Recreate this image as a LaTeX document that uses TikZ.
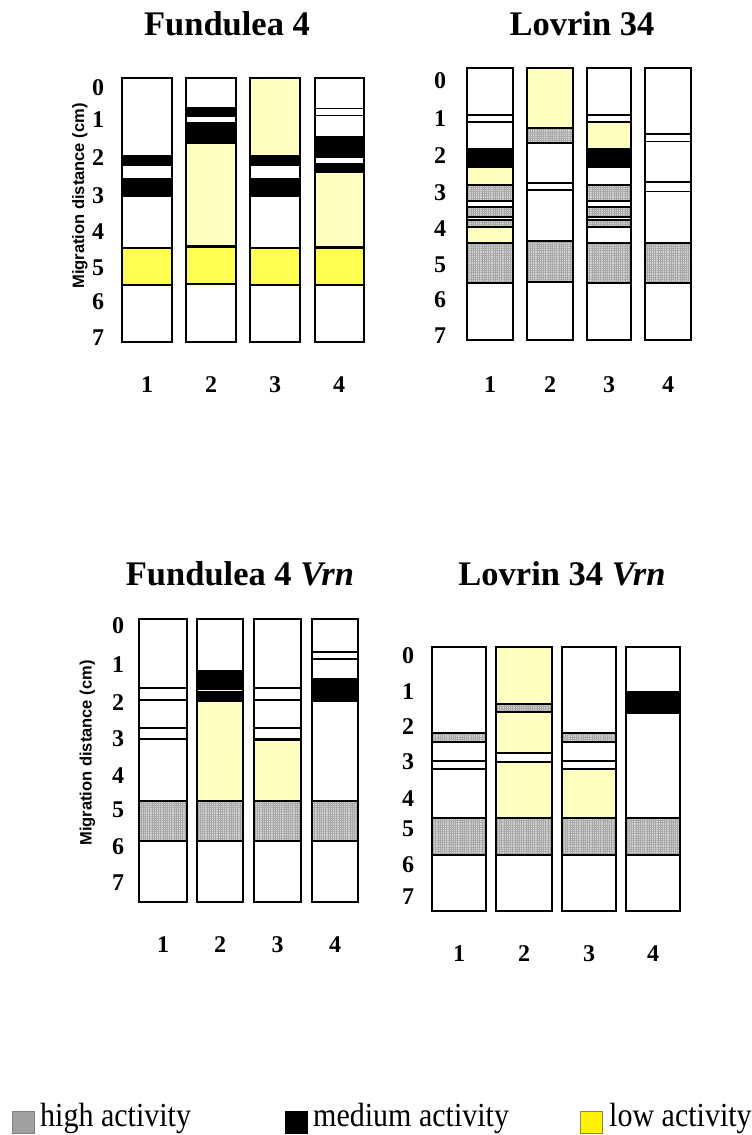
\documentclass[tikz,border=0pt]{standalone}
\usepackage{graphicx}
\usepackage{fontspec}
\setmainfont{Liberation Serif}
\newfontfamily\axisfont{Liberation Sans}
\usetikzlibrary{patterns.meta}
\definecolor{lyel}{HTML}{FFFFC0}
\definecolor{meshgrey}{HTML}{D4D4D4}
\definecolor{meshline}{HTML}{A8A8A8}
\definecolor{myel}{HTML}{FFFF50}
\definecolor{leggrey}{HTML}{A0A0A0}
\definecolor{legedge}{HTML}{808080}
\tikzset{
  bandline/.style={draw=black, line width=1.9pt},
  laneframe/.style={draw=black, line width=2pt},
  bk/.style={bandline, fill=black},
  yl/.style={bandline, fill=lyel},
  wb/.style={bandline, fill=white},
  gm/.style={bandline,
    preaction={fill=meshgrey},
    preaction={pattern={Lines[angle=0,distance=2.2pt,line width=0.5pt]}, pattern color=meshline},
    preaction={pattern={Lines[angle=90,distance=2.2pt,line width=0.5pt]}, pattern color=meshline}},
  ym/.style={bandline, fill=myel},
  title/.style={anchor=base, inner sep=0pt, font=\fontsize{34.5}{40}\selectfont\bfseries},
  tick/.style={inner sep=0pt, font=\fontsize{24}{28}\selectfont\bfseries},
  axlabel/.style={rotate=90, inner sep=0pt, font=\axisfont\fontsize{16.5}{19}\selectfont\bfseries},
  legtext/.style={anchor=base west, inner sep=0pt, font=\fontsize{30}{34}\selectfont},
}
\newcommand\bd[5]{\draw[#1] (#2,#4) rectangle (#3,#5);}
\begin{document}
\begin{tikzpicture}[x=1pt,y=-1pt]
\useasboundingbox (0,0) rectangle (752,1135);

% ---------------- titles
\node[title] (t1) at (227,35) {Fundulea 4};
\node[title] (t2) at (582,35) {Lovrin 34};
\node[title] (t3) at (240,585) {Fundulea 4 \textit{Vrn}};
\node[title] (t4) at (562,585) {Lovrin 34 \textit{Vrn}};

% ---------------- axis labels
\node[axlabel] (a1) at (80,196) {Migration distance (cm)};
\node[axlabel] (a3) at (87.5,753) {Migration distance (cm)};

% ---------------- axis digits
\foreach \y [count=\i from 0] in {88,120,158,196,232,268,302,338}
  \node[tick] (p1y\i) at (98,\y) {\i};
\foreach \y [count=\i from 0] in {81,119,156,193,229,265,300,336}
  \node[tick] (p2y\i) at (440,\y) {\i};
\foreach \y [count=\i from 0] in {626,665,703,739,776,810,847,883}
  \node[tick] (p3y\i) at (118,\y) {\i};
\foreach \y [count=\i from 0] in {656,692,727,762,799,829,865,897}
  \node[tick] (p4y\i) at (408,\y) {\i};

% ---------------- lane numbers
\foreach \x [count=\i] in {147,211,275,339}
  \node[tick] (p1n\i) at (\x,385) {\i};
\foreach \x [count=\i] in {490,550,609,668}
  \node[tick] (p2n\i) at (\x,385) {\i};
\foreach \x [count=\i] in {163,220,277.5,335}
  \node[tick] (p3n\i) at (\x,945) {\i};
\foreach \x [count=\i] in {459,524,589,653}
  \node[tick] (p4n\i) at (\x,954) {\i};

% ---------------- panel 1 : Fundulea 4
\bd{bk}{122}{172}{156}{165}
\bd{bk}{122}{172}{179}{196}
\bd{ym}{122}{172}{248}{285}
\bd{bk}{186}{236}{108}{116}
\bd{bk}{186}{236}{123}{143}
\bd{yl}{186}{236}{143}{246}
\bd{ym}{186}{236}{247}{284}
\bd{yl}{250}{300}{78}{156}
\bd{bk}{250}{300}{156}{165}
\bd{bk}{250}{300}{179}{196}
\bd{ym}{250}{300}{248}{285}
\bd{wb}{315}{364}{108.5}{115.5}
\bd{bk}{315}{364}{137}{157}
\bd{bk}{315}{364}{164}{172}
\bd{yl}{315}{364}{172}{247}
\bd{ym}{315}{364}{248}{285}
\foreach \a/\b in {122/172,186/236,250/300,315/364}
  \draw[laneframe] (\a,78) rectangle (\b,342);

% ---------------- panel 2 : Lovrin 34
\bd{wb}{467}{513}{115}{122}
\bd{bk}{467}{513}{149}{167}
\bd{yl}{467}{513}{167}{185}
\bd{gm}{467}{513}{185}{201}
\bd{wb}{467}{513}{201}{207}
\bd{gm}{467}{513}{207}{217}
\bd{wb}{467}{513}{217}{220}
\bd{gm}{467}{513}{220}{227}
\bd{yl}{467}{513}{227}{243}
\bd{gm}{467}{513}{243}{283}
\bd{yl}{527}{573}{68}{128}
\bd{gm}{527}{573}{128}{143}
\bd{wb}{527}{573}{183}{190}
\bd{gm}{527}{573}{241}{282}
\bd{wb}{587}{631}{115}{122}
\bd{yl}{587}{631}{122}{149}
\bd{bk}{587}{631}{149}{167}
\bd{gm}{587}{631}{185}{201}
\bd{wb}{587}{631}{201}{207}
\bd{gm}{587}{631}{207}{217}
\bd{wb}{587}{631}{217}{220}
\bd{gm}{587}{631}{220}{227}
\bd{gm}{587}{631}{243}{283}
\bd{wb}{645}{691}{134}{141.5}
\bd{wb}{645}{691}{182}{191.5}
\bd{gm}{645}{691}{243}{283}
\foreach \a/\b in {467/513,527/573,587/631,645/691}
  \draw[laneframe] (\a,68) rectangle (\b,340);

% ---------------- panel 3 : Fundulea 4 Vrn
\bd{wb}{139}{187}{688}{700}
\bd{wb}{139}{187}{728}{739}
\bd{gm}{139}{187}{801}{841}
\bd{bk}{197}{243}{671}{690}
\bd{bk}{197}{243}{691}{701}
\draw[white, line width=0.9pt] (198,690.5) -- (242,690.5);
\bd{yl}{197}{243}{701}{801}
\bd{gm}{197}{243}{801}{841}
\bd{wb}{254}{301}{688}{700}
\bd{wb}{254}{301}{728}{739}
\bd{yl}{254}{301}{740}{801}
\bd{gm}{254}{301}{801}{841}
\bd{wb}{312}{358}{652}{659}
\bd{bk}{312}{358}{679}{701}
\bd{gm}{312}{358}{801}{841}
\foreach \a/\b in {139/187,197/243,254/301,312/358}
  \draw[laneframe] (\a,619) rectangle (\b,902);

% ---------------- panel 4 : Lovrin 34 Vrn
\bd{gm}{432}{486}{733}{742}
\bd{wb}{432}{486}{761}{769}
\bd{gm}{432}{486}{818}{855}
\bd{yl}{496}{552}{647}{704}
\bd{gm}{496}{552}{704}{712}
\bd{yl}{496}{552}{712}{753}
\bd{wb}{496}{552}{753}{762}
\bd{yl}{496}{552}{762}{818}
\bd{gm}{496}{552}{818}{855}
\bd{gm}{562}{616}{733}{742}
\bd{wb}{562}{616}{761}{769}
\bd{yl}{562}{616}{769}{818}
\bd{gm}{562}{616}{818}{855}
\bd{bk}{626}{680}{692}{713}
\bd{gm}{626}{680}{818}{855}
\foreach \a/\b in {432/486,496/552,562/616,626/680}
  \draw[laneframe] (\a,647) rectangle (\b,911);

% ---------------- legend
\draw[fill=leggrey, draw=legedge, line width=1pt] (12,1111) rectangle (34,1133);
\node[legtext] (lg1) at (40,1126) {\scalebox{1}[1.12]{high activity}};
\draw[fill=black, draw=black, line width=1pt] (285,1111) rectangle (307,1133);
\node[legtext] (lg2) at (313,1126) {\scalebox{1}[1.12]{medium activity}};
\draw[fill=yellow, draw=legedge, line width=1pt] (580,1111) rectangle (602,1133);
\node[legtext] (lg3) at (609,1126) {\scalebox{1}[1.12]{low activity}};
\end{tikzpicture}
\end{document}
